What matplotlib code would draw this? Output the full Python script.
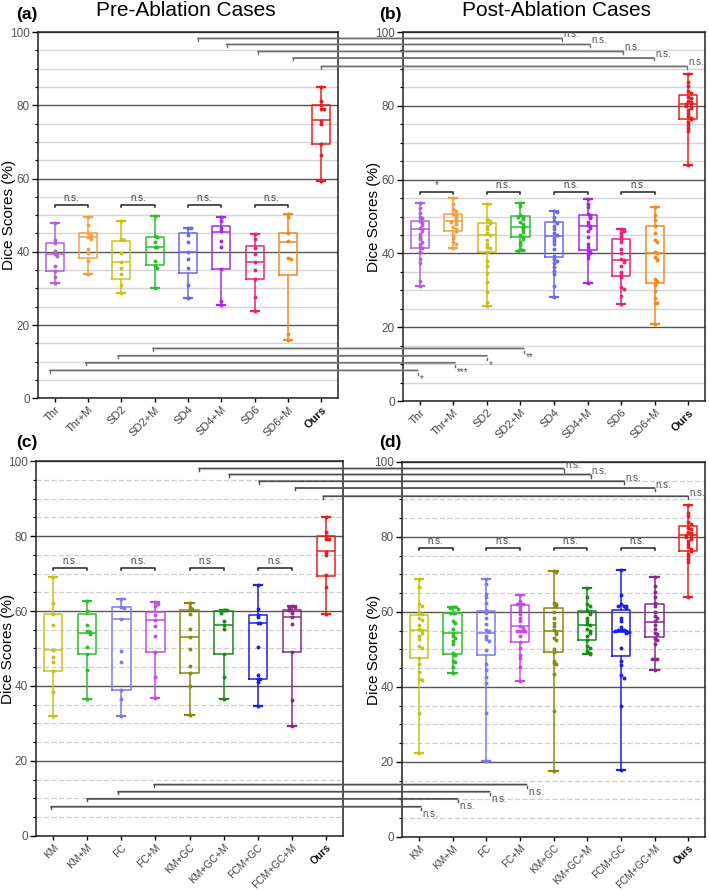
import matplotlib
matplotlib.use("Agg")
import matplotlib.pyplot as plt
import matplotlib.transforms as mtransforms
from matplotlib.patches import ConnectionPatch
from matplotlib.ticker import MultipleLocator

plt.rcParams['font.family'] = ['Liberation Sans', 'DejaVu Sans']

# ---------------- data ----------------
thr_methods = ['Thr', 'Thr+M', 'SD2', 'SD2+M', 'SD4', 'SD4+M', 'SD6', 'SD6+M', 'Ours']
clu_methods = ['KM', 'KM+M', 'FC', 'FC+M', 'KM+GC', 'KM+GC+M', 'FCM+GC', 'FCM+GC+M', 'Ours']

thr_colors = ['#b45fdb', '#f5a142', '#c9c21b', '#2cbf2c', '#6b6be8',
              '#a92bd6', '#e8247a', '#f28a1e', '#e8201e']
clu_colors = ['#c9c21b', '#2cbf2c', '#7b7bee', '#c94ae6', '#8a8a10',
              '#1a8a1a', '#1f1fe6', '#8a2a8a', '#e8201e']

# box stats: (min, q1, median, q3, max)
ours_pre_stats = (59.3, 69.4, 76.1, 80.0, 85.0)
ours_post_stats = (64.1, 76.3, 80.4, 82.9, 88.6)
ours_pre_pts = [85.0, 81.2, 79.1, 79.1, 80.0, 75.8, 75.0, 69.5, 66.5, 59.3]
ours_post_pts = [88.6, 86.5, 85.5, 84.0, 83.5, 82.5, 82.0, 81.3, 81.0, 80.5, 80.4,
                 80.0, 79.5, 78.8, 78.0, 77.3, 76.8, 76.3, 75.5, 74.8, 74.0, 73.3, 64.1]

a_stats = [(31.6, 34.7, 39.4, 42.3, 47.9), (33.8, 38.2, 43.9, 45.2, 49.6),
           (28.7, 32.6, 37.1, 43.0, 48.4), (30.0, 36.3, 41.2, 44.1, 49.7),
           (27.5, 34.1, 40.0, 45.2, 46.6), (25.4, 35.2, 45.3, 47.0, 49.6),
           (23.8, 32.5, 37.1, 41.5, 44.8), (15.8, 33.6, 42.6, 45.0, 50.3),
           ours_pre_stats]
a_points = [
    [47.9, 43.1, 42.3, 40.3, 39.4, 38.9, 36.0, 34.7, 33.1, 31.6],
    [49.6, 47.3, 45.2, 44.6, 43.9, 43.5, 40.7, 39.8, 37.5, 33.8],
    [48.4, 43.5, 43.3, 39.7, 37.1, 35.5, 33.9, 30.9, 28.7],
    [49.7, 44.3, 44.0, 42.8, 41.3, 41.2, 37.5, 36.0, 35.5, 30.0],
    [46.6, 46.4, 44.7, 42.6, 40.0, 38.0, 35.5, 31.0, 27.5],
    [49.6, 48.3, 46.6, 45.6, 43.0, 41.3, 35.2, 26.5, 25.4],
    [44.8, 43.4, 41.0, 39.4, 37.2, 35.0, 32.7, 27.7, 23.8],
    [50.3, 49.5, 45.0, 43.0, 38.3, 38.0, 17.5, 15.8],
    ours_pre_pts,
]

b_stats = [(31.2, 41.6, 46.7, 48.8, 53.6), (41.6, 46.0, 48.8, 50.6, 54.9),
           (25.7, 40.5, 45.0, 48.3, 53.4), (40.6, 44.5, 47.2, 50.2, 53.6),
           (28.1, 38.9, 44.8, 48.4, 51.6), (32.1, 41.0, 47.4, 50.3, 54.7),
           (26.2, 33.9, 38.2, 44.0, 46.6), (20.8, 32.1, 40.2, 47.4, 52.7),
           ours_post_stats]
b_points = [
    [53.6, 52.2, 51.0, 49.9, 49.5, 48.8, 48.3, 47.8, 47.0, 46.7, 46.2, 45.3, 44.5,
     43.8, 43.2, 42.5, 41.8, 41.6, 40.5, 38.4, 37.5, 32.5, 31.2],
    [54.9, 53.5, 52.0, 51.5, 50.8, 50.3, 50.0, 49.5, 49.0, 48.8, 48.5, 48.0, 47.2,
     46.7, 46.2, 46.0, 45.0, 44.3, 43.0, 42.5, 41.6],
    [53.4, 49.2, 48.8, 48.3, 47.3, 46.5, 45.5, 45.0, 43.7, 42.5, 41.7, 41.5, 40.5,
     38.0, 36.5, 34.6, 32.3, 29.6, 26.9, 25.7],
    [53.6, 52.9, 50.3, 50.0, 49.8, 49.2, 48.5, 48.0, 47.5, 47.2, 46.8, 46.3, 45.7,
     45.0, 44.5, 44.0, 43.2, 42.3, 41.2, 40.8, 40.6],
    [51.6, 51.2, 49.8, 48.8, 48.3, 47.5, 46.5, 45.6, 45.0, 44.3, 43.5, 42.5, 41.2,
     39.2, 38.5, 38.0, 37.3, 36.2, 35.3, 34.4, 31.2, 28.1],
    [54.7, 53.5, 52.7, 50.8, 50.3, 49.8, 49.5, 48.5, 47.8, 47.4, 47.0, 46.2, 44.5,
     42.5, 41.8, 41.0, 40.5, 40.2, 39.5, 38.7, 32.1],
    [46.6, 46.2, 45.5, 44.8, 44.0, 43.0, 41.3, 40.0, 38.5, 38.2, 37.8, 36.5, 35.0,
     34.2, 33.5, 31.0, 30.3, 28.5, 26.2],
    [52.7, 50.5, 49.0, 47.5, 45.5, 43.6, 43.0, 40.5, 40.2, 39.0, 38.5, 38.2, 33.0,
     32.5, 31.5, 29.7, 28.0, 26.7, 26.5, 20.8],
    ours_post_pts,
]

c_stats = [(31.9, 43.9, 49.5, 59.1, 69.1), (36.6, 48.4, 54.2, 59.1, 62.8),
           (31.9, 38.8, 57.8, 61.1, 63.3), (36.7, 49.0, 57.5, 59.7, 62.4),
           (32.2, 43.5, 53.1, 60.4, 62.1), (36.5, 48.4, 56.4, 60.0, 60.4),
           (34.6, 41.9, 56.8, 59.0, 67.0), (29.3, 49.1, 58.5, 60.4, 61.3),
           ours_pre_stats]
c_points = [
    [69.1, 62.1, 59.1, 56.2, 49.7, 47.8, 46.3, 43.9, 38.4, 31.9],
    [62.8, 60.0, 56.2, 54.8, 54.3, 54.0, 50.4, 48.4, 44.2, 36.6],
    [63.3, 61.2, 60.9, 57.8, 49.3, 46.3, 38.8, 36.5, 31.9],
    [62.4, 62.0, 61.3, 58.9, 57.5, 55.9, 53.4, 49.0, 42.4, 36.7],
    [62.1, 61.1, 60.6, 59.3, 55.2, 53.1, 49.9, 45.4, 43.5, 40.0, 32.2],
    [60.4, 60.2, 60.0, 59.6, 57.4, 56.2, 55.2, 48.4, 42.4, 36.5],
    [67.0, 60.6, 59.0, 58.3, 56.8, 56.8, 50.4, 42.8, 41.9, 41.9, 41.0, 34.6],
    [61.3, 61.0, 61.0, 60.4, 59.5, 58.5, 56.6, 49.1, 36.2, 29.3],
    ours_pre_pts,
]

d_stats = [(22.5, 47.6, 55.1, 59.1, 68.9), (43.6, 48.9, 54.4, 59.6, 61.3),
           (20.3, 48.6, 54.4, 60.2, 68.9), (41.6, 51.9, 56.3, 61.8, 64.4),
           (17.5, 49.2, 55.0, 61.1, 70.9), (48.7, 52.6, 56.4, 60.3, 66.5),
           (17.9, 48.3, 54.7, 60.6, 71.1), (44.4, 53.3, 57.2, 62.0, 69.3),
           ours_post_stats]
d_points = [
    [68.9, 66.6, 62.0, 61.5, 60.0, 59.5, 58.4, 57.8, 56.6, 55.5, 55.1, 54.5, 53.5,
     52.7, 51.0, 50.5, 47.6, 46.0, 44.0, 42.2, 41.8, 33.0, 22.5],
    [61.3, 61.3, 61.1, 60.9, 59.8, 59.6, 59.6, 57.5, 57.0, 55.5, 54.4, 53.5, 53.0,
     52.3, 51.5, 49.0, 48.5, 47.0, 46.7, 45.3, 43.6],
    [68.9, 67.5, 64.8, 64.0, 62.5, 60.5, 59.8, 58.3, 56.7, 55.2, 54.8, 53.5, 52.7,
     52.3, 49.8, 46.0, 44.5, 42.7, 41.0, 33.0, 20.3],
    [64.4, 62.8, 62.0, 62.0, 62.0, 61.3, 60.5, 59.5, 58.5, 57.5, 56.3, 55.7, 55.0,
     54.8, 54.8, 54.8, 53.5, 52.0, 50.5, 48.5, 47.6, 45.4, 41.6],
    [70.9, 70.6, 62.5, 62.0, 61.6, 60.0, 58.5, 57.0, 56.2, 55.2, 54.6, 54.0, 53.0,
     52.5, 50.0, 49.2, 47.0, 46.3, 46.0, 43.5, 33.5, 17.5],
    [66.5, 64.0, 62.0, 61.5, 60.5, 60.0, 59.5, 58.5, 57.5, 56.8, 56.4, 55.5, 55.0,
     54.5, 53.5, 52.6, 51.0, 50.5, 49.5, 49.0, 48.7],
    [71.1, 64.5, 62.0, 61.5, 61.5, 61.5, 61.0, 58.5, 57.5, 56.0, 55.2, 55.2, 55.2,
     55.0, 54.8, 54.7, 54.5, 50.4, 46.8, 45.9, 43.1, 42.5, 34.8, 17.9],
    [69.3, 67.0, 65.2, 64.0, 62.5, 61.5, 60.0, 59.0, 58.5, 57.5, 56.5, 55.5, 54.5,
     54.0, 53.0, 52.5, 51.5, 47.5, 47.5, 47.5, 44.4],
    ours_post_pts,
]

# pairwise brackets inside panels: (left index, right index, y, label)
a_pairs = [(0, 1, 52.9, 'n.s.'), (2, 3, 52.9, 'n.s.'), (4, 5, 52.9, 'n.s.'), (6, 7, 52.9, 'n.s.')]
b_pairs = [(0, 1, 56.7, '*'), (2, 3, 56.7, 'n.s.'), (4, 5, 56.7, 'n.s.'), (6, 7, 56.7, 'n.s.')]
c_pairs = [(0, 1, 71.6, 'n.s.'), (2, 3, 71.6, 'n.s.'), (4, 5, 71.6, 'n.s.'), (6, 7, 71.6, 'n.s.')]
d_pairs = [(0, 1, 77.1, 'n.s.'), (2, 3, 77.1, 'n.s.'), (4, 5, 77.1, 'n.s.'), (6, 7, 77.1, 'n.s.')]

# links between left and right panels: (x left, x right, y, label)
ab_top = [(4.3, 4.24, 98.25, 'n.s.'), (5.16, 5.07, 96.6, 'n.s.'), (6.1, 6.06, 94.7, 'n.s.'),
          (7.15, 6.98, 92.9, 'n.s.'), (8.0, 7.97, 90.6, 'n.s.')]
ab_bottom = [(2.95, 3.1, 13.6, '**'), (1.9, 2.0, 11.6, '*'),
             (0.93, 1.05, 9.7, '***'), (-0.15, -0.06, 7.6, '*')]
cd_top = [(4.28, 4.3, 98.0, 'n.s.'), (5.16, 5.1, 96.4, 'n.s.'), (6.04, 6.1, 94.6, 'n.s.'),
          (7.1, 7.0, 92.8, 'n.s.'), (7.92, 8.0, 90.6, 'n.s.')]
cd_bottom = [(2.96, 3.2, 13.7, 'n.s.'), (1.9, 2.1, 11.8, 'n.s.'),
             (1.0, 1.15, 9.9, 'n.s.'), (-0.06, 0.06, 7.8, 'n.s.')]

# ---------------- plotting ----------------
fig = plt.figure(figsize=(7.09, 8.90), dpi=100)
ax_a = fig.add_axes([0.0536, 0.5525, 0.4231, 0.4115])
ax_b = fig.add_axes([0.5684, 0.5494, 0.4260, 0.4146])
ax_c = fig.add_axes([0.0508, 0.0607, 0.4330, 0.4213])
ax_d = fig.add_axes([0.5670, 0.0596, 0.4274, 0.4213])


def dodge(vals):
    steps = [0, 0.08, -0.08, 0.16, -0.16, 0.24, -0.24]
    offs = []
    for i, v in enumerate(vals):
        n = sum(1 for u in vals[:i] if abs(u - v) < 0.7)
        offs.append(steps[min(n, len(steps) - 1)])
    return offs


def draw_panel(ax, methods, colors, stats, points, pairs, dashed_minor, label_x, xsize):
    for i, (st, pts, col) in enumerate(zip(stats, points, colors)):
        lo, q1, med, q3, hi = st
        box = dict(whislo=lo, q1=q1, med=med, q3=q3, whishi=hi, fliers=[])
        ax.bxp([box], positions=[i], widths=0.54, showfliers=False, patch_artist=False,
               boxprops=dict(color=col, lw=1.1), medianprops=dict(color=col, lw=1.1),
               whiskerprops=dict(color=col, lw=1.1), capprops=dict(color=col, lw=1.6),
               capwidths=0.24, manage_ticks=False, zorder=3)
        xs = [i + o for o in dodge(pts)]
        ax.scatter(xs, pts, s=8, color=col, zorder=4, linewidths=0)

    ax.set_xlim(-0.5, 8.5)
    ax.set_ylim(0, 100)
    ax.yaxis.set_major_locator(MultipleLocator(20))
    ax.yaxis.set_minor_locator(MultipleLocator(5))
    ax.set_xticks(range(len(methods)))
    ax.set_xticklabels(methods, rotation=45, ha='right', rotation_mode='anchor',
                       fontsize=xsize, color='#444444')
    ax.get_xticklabels()[-1].set_fontweight('bold')
    ax.get_xticklabels()[-1].set_color('#111111')
    ax.tick_params(axis='y', labelsize=8.5, labelcolor='#555555', length=4, width=1, pad=2)
    ax.tick_params(axis='y', which='minor', length=2, width=0.8)
    ax.tick_params(axis='x', length=3, width=1, pad=1.5)
    ax.set_ylabel('Dice Scores (%)', fontsize=11)
    ax.yaxis.set_label_coords(label_x, 0.5)
    ax.set_axisbelow(True)
    if dashed_minor:
        ax.grid(True, which='minor', axis='y', color='#cfcfcf', lw=0.9, ls=(0, (4, 2)))
    else:
        ax.grid(True, which='minor', axis='y', color='#d6d6d6', lw=1.0)
    ax.grid(True, which='major', axis='y', color='#555555', lw=1.0)
    for sp in ax.spines.values():
        sp.set_linewidth(1.1)
        sp.set_color('#222222')

    for l, r, y, lab in pairs:
        ax.plot([l, l, r, r], [y - 0.7, y, y, y - 0.7], color='#222222', lw=1.1, zorder=5)
        ax.text((l + r) / 2, y + 0.4, lab, ha='center', va='bottom', fontsize=7,
                color='#444444')


draw_panel(ax_a, thr_methods, thr_colors, a_stats, a_points, a_pairs, False, -0.072, 8)
draw_panel(ax_b, thr_methods, thr_colors, b_stats, b_points, b_pairs, False, -0.072, 8)
draw_panel(ax_c, clu_methods, clu_colors, c_stats, c_points, c_pairs, True, -0.069, 7.4)
draw_panel(ax_d, clu_methods, clu_colors, d_stats, d_points, d_pairs, True, -0.07, 7.2)


def link(ax1, ax2, x1, x2, y, label, top, lcol):
    trans = mtransforms.blended_transform_factory(ax2.transData, ax1.transData)
    con = ConnectionPatch(xyA=(x1, y), coordsA=ax1.transData, xyB=(x2, y), coordsB=trans,
                          color=lcol, lw=1.3, zorder=6)
    fig.add_artist(con)
    ax1.plot([x1, x1], [y, y - 0.6], color=lcol, lw=1.0, clip_on=False, zorder=6)
    ax2.plot([x2, x2], [y, y - 0.6], color=lcol, lw=1.0, clip_on=False, zorder=6)
    if top:
        ax2.text(x2 + 0.04, y - 0.2, label, ha='left', va='bottom', fontsize=7,
                 color='#555555', clip_on=False)
    else:
        ax2.text(x2 + 0.06, y - 0.4, label, ha='left', va='top', fontsize=7,
                 color='#555555', clip_on=False)


for x1, x2, y, lab in ab_top:
    link(ax_a, ax_b, x1, x2, y, lab, True, '#707070')
for x1, x2, y, lab in ab_bottom:
    link(ax_a, ax_b, x1, x2, y, lab, False, '#707070')
for x1, x2, y, lab in cd_top:
    link(ax_c, ax_d, x1, x2, y, lab, True, '#505050')
for x1, x2, y, lab in cd_bottom:
    link(ax_c, ax_d, x1, x2, y, lab, False, '#505050')

# panel letters and titles
fig.text(16 / 709, 1 - 14 / 890, '(a)', fontsize=12.5, fontweight='bold', va='center')
fig.text(379 / 709, 1 - 14 / 890, '(b)', fontsize=12.5, fontweight='bold', va='center')
fig.text(16 / 709, 1 - 443 / 890, '(c)', fontsize=12.5, fontweight='bold', va='center')
fig.text(379 / 709, 1 - 443 / 890, '(d)', fontsize=12.5, fontweight='bold', va='center')
fig.text(186 / 709, 1 - 10 / 890, 'Pre-Ablation Cases', fontsize=15, ha='center', va='center')
fig.text(556 / 709, 1 - 10 / 890, 'Post-Ablation Cases', fontsize=15, ha='center', va='center')

fig.savefig('out.png', dpi=100)
